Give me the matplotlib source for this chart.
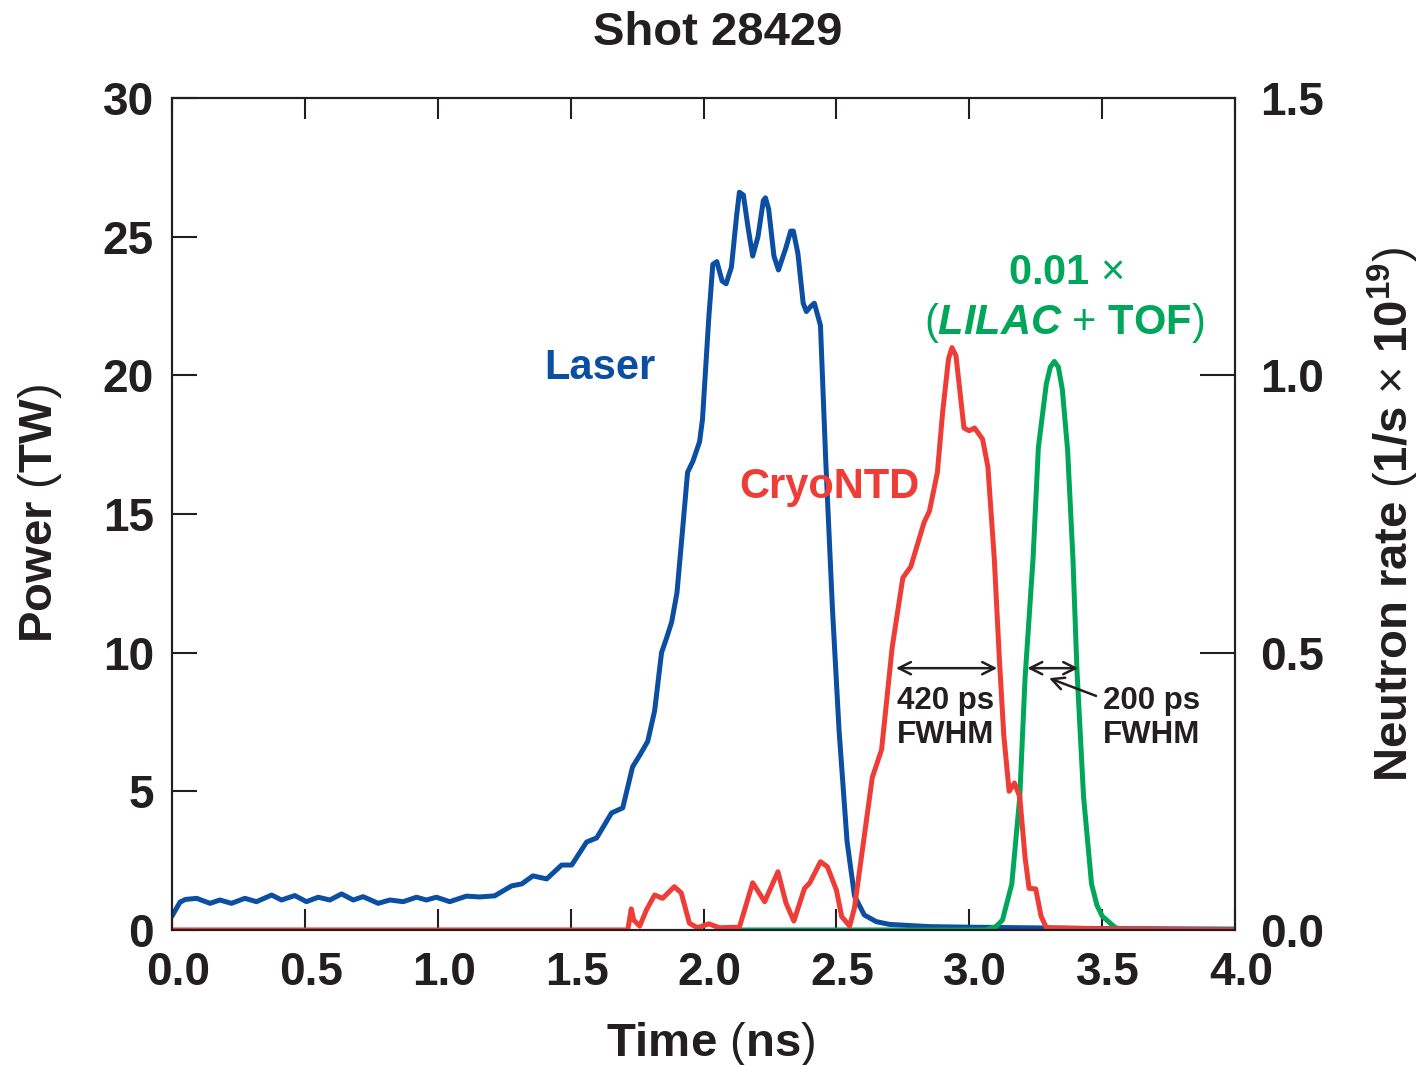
import matplotlib
matplotlib.use("Agg")
import matplotlib.pyplot as plt
from matplotlib.transforms import ScaledTranslation

plt.rcParams['font.family'] = ['Liberation Sans', 'DejaVu Sans']
plt.rcParams['font.weight'] = 'bold'
plt.rcParams['axes.titleweight'] = 'bold'
plt.rcParams['axes.labelweight'] = 'bold'
plt.rcParams['mathtext.fontset'] = 'custom'
plt.rcParams['mathtext.rm'] = 'Liberation Sans:weight=normal'
plt.rcParams['mathtext.bf'] = 'Liberation Sans:weight=bold'
plt.rcParams['mathtext.it'] = 'Liberation Sans:weight=bold:slant=italic'

DARK = '#231f20'
BLUE = '#0b4ea2'
RED = '#ee3d36'
GREEN = '#00a65a'

# laser power (TW) vs time (ns)
laser_t = [0.0, 0.03, 0.05, 0.093, 0.143, 0.18, 0.224, 0.274, 0.318, 0.375,
           0.412, 0.462, 0.506, 0.55, 0.594, 0.638, 0.682, 0.719, 0.776, 0.82,
           0.87, 0.92, 0.957, 0.995, 1.045, 1.108, 1.158, 1.214, 1.278, 1.316,
           1.358, 1.41, 1.466, 1.504, 1.56, 1.598, 1.654, 1.696, 1.733, 1.76,
           1.79, 1.816, 1.842, 1.86, 1.88, 1.90, 1.92, 1.94, 1.96, 1.985,
           1.996, 2.02, 2.035, 2.05, 2.07, 2.085, 2.105, 2.125, 2.135, 2.15,
           2.168, 2.185, 2.205, 2.225, 2.233, 2.245, 2.265, 2.282, 2.31, 2.328,
           2.338, 2.355, 2.375, 2.387, 2.405, 2.417, 2.44, 2.46, 2.485, 2.51,
           2.54, 2.568, 2.605, 2.65, 2.70, 2.85, 3.0, 3.5, 4.0]
laser_p = [0.5, 1.0, 1.1, 1.14, 0.96, 1.08, 0.96, 1.14, 1.02, 1.26,
           1.08, 1.24, 1.02, 1.18, 1.08, 1.30, 1.08, 1.20, 0.96, 1.08,
           1.02, 1.18, 1.08, 1.18, 1.02, 1.22, 1.19, 1.23, 1.59, 1.66,
           1.95, 1.84, 2.34, 2.34, 3.17, 3.32, 4.22, 4.4, 5.88, 6.3,
           6.8, 7.9, 10.0, 10.5, 11.1, 12.15, 14.3, 16.5, 16.9, 17.6,
           18.4, 22.1, 24.0, 24.1, 23.4, 23.3, 23.9, 25.8, 26.6, 26.5,
           25.3, 24.3, 25.0, 26.3, 26.4, 26.0, 24.3, 23.8, 24.6, 25.2,
           25.2, 24.4, 22.6, 22.3, 22.5, 22.6, 21.8, 16.9, 11.6, 7.2,
           3.2, 1.23, 0.54, 0.3, 0.2, 0.12, 0.1, 0.05, 0.03]

# CryoNTD neutron rate (1e19 /s)
cryo_t = [0.0, 1.715, 1.728, 1.737, 1.76, 1.785, 1.816, 1.846, 1.89, 1.916,
          1.947, 1.977, 2.02, 2.06, 2.135, 2.185, 2.23, 2.28, 2.31, 2.34,
          2.38, 2.40, 2.44, 2.466, 2.50, 2.52, 2.55, 2.568, 2.598, 2.635,
          2.67, 2.71, 2.75, 2.78, 2.83, 2.85, 2.88, 2.90, 2.922, 2.935,
          2.95, 2.98, 3.0, 3.02, 3.05, 3.07, 3.094, 3.113, 3.13, 3.15,
          3.17, 3.19, 3.21, 3.225, 3.25, 3.27, 3.29, 3.5, 4.0]
cryo_rate = [0.0, 0.0, 0.038, 0.018, 0.007, 0.036, 0.063, 0.057, 0.078, 0.067,
             0.012, 0.004, 0.011, 0.004, 0.005, 0.085, 0.051, 0.105, 0.049, 0.016,
             0.075, 0.085, 0.123, 0.114, 0.072, 0.024, 0.007, 0.040, 0.145, 0.275,
             0.325, 0.51, 0.635, 0.655, 0.735, 0.755, 0.825, 0.935, 1.03, 1.05,
             1.035, 0.905, 0.90, 0.905, 0.885, 0.835, 0.67, 0.49, 0.35, 0.25,
             0.265, 0.24, 0.13, 0.075, 0.074, 0.025, 0.004, 0.002, 0.0]

# 0.01 x (LILAC + TOF) neutron rate
lilac_t = [2.05, 3.06, 3.1, 3.125, 3.16, 3.19, 3.21, 3.24, 3.26, 3.29,
           3.305, 3.32, 3.335, 3.35, 3.37, 3.39, 3.405, 3.43, 3.46, 3.48,
           3.50, 3.55, 3.6, 4.0]
lilac_rate = [0.0, 0.0, 0.006, 0.018, 0.083, 0.24, 0.455, 0.67, 0.87, 0.985,
              1.015, 1.025, 1.015, 0.975, 0.865, 0.67, 0.47, 0.24, 0.083, 0.045,
              0.025, 0.004, 0.0, 0.0]

xticks = [0.0, 0.5, 1.0, 1.5, 2.0, 2.5, 3.0, 3.5, 4.0]
yticks = [0, 5, 10, 15, 20, 25, 30]
y2ticks = [0.0, 0.5, 1.0, 1.5]

fig = plt.figure(figsize=(14.25, 10.65), dpi=100)
ax = fig.add_axes([0.1207, 0.1268, 0.746, 0.7812])
ax2 = ax.twinx()

line_kw = dict(lw=3.6, solid_joinstyle='round', solid_capstyle='round')
ax.plot(laser_t, laser_p, color=BLUE, **line_kw)
ax2.plot(lilac_t, lilac_rate, color=GREEN, **line_kw)
ax2.plot(cryo_t, cryo_rate, color=RED, **line_kw)

ax.set_xlim(0, 4)
ax.set_ylim(0, 30)
ax2.set_ylim(0, 1.5)

ax.set_xticks(xticks)
ax.set_xticklabels([f'{v:.1f}' for v in xticks])
ax.set_yticks(yticks)
ax2.set_yticks(y2ticks)
ax2.set_yticklabels([f'{v:.1f}' for v in y2ticks])

ax.tick_params(axis='x', direction='in', top=True, length=15, width=1.5,
               labelsize=33, pad=15, colors=DARK)
ax.tick_params(axis='y', direction='in', right=False, length=18, width=1.5,
               labelsize=33, pad=13, colors=DARK)
ax2.tick_params(axis='y', direction='in', length=25, width=1.5,
                labelsize=33, pad=18, colors=DARK)
for lab in ax.get_xticklabels():
    lab.set_transform(lab.get_transform() + ScaledTranslation(0.06, 0, fig.dpi_scale_trans))
for a in (ax, ax2):
    for s in a.spines.values():
        s.set_linewidth(1.5)
        s.set_color(DARK)

ax.set_xlabel(r'Time $($ns$)$', fontsize=34, color=DARK, labelpad=18)
ax.xaxis.set_label_coords(0.507, -0.108)
ax.set_ylabel(r'Power $($TW$)$', fontsize=34, color=DARK, labelpad=28)
ax2.set_ylabel(r'Neutron rate $($1/s $\times$ 10$^{\mathbf{19}}$$)$', fontsize=34,
               color=DARK, rotation=90, labelpad=30)
ax.set_title('Shot 28429', fontsize=34, color=DARK, pad=38, x=0.513)

ax.text(1.609, 20.27, 'Laser', color=BLUE, fontsize=30, ha='center', va='center')
ax.text(2.474, 15.98, 'CryoNTD', color=RED, fontsize=30, ha='center', va='center')
ax.text(3.365, 23.7, r'0.01 $\times$', color=GREEN, fontsize=30, ha='center', va='center')
ax.text(3.357, 21.9, r'$($$\mathit{LILAC}$ $+$ TOF$)$', color=GREEN, fontsize=30,
        ha='center', va='center')
ax.text(2.91, 7.65, '420 ps\nFWHM', color=DARK, fontsize=22.5, ha='center',
        va='center', linespacing=1.15)
ax.text(3.684, 7.65, '200 ps\nFWHM', color=DARK, fontsize=22.5, ha='center',
        va='center', linespacing=1.15)

arrow = dict(arrowstyle='<->', lw=1.8, color=DARK, mutation_scale=22,
             shrinkA=0, shrinkB=0)
ax2.annotate('', xy=(2.724, 0.472), xytext=(3.105, 0.472), arrowprops=arrow)
ax2.annotate('', xy=(3.218, 0.472), xytext=(3.41, 0.472), arrowprops=arrow)
ax2.annotate('', xy=(3.30, 0.454), xytext=(3.477, 0.422),
             arrowprops=dict(arrowstyle='->', lw=1.8, color=DARK,
                             mutation_scale=22, shrinkA=0, shrinkB=0))

fig.savefig('out.png', dpi=100)
